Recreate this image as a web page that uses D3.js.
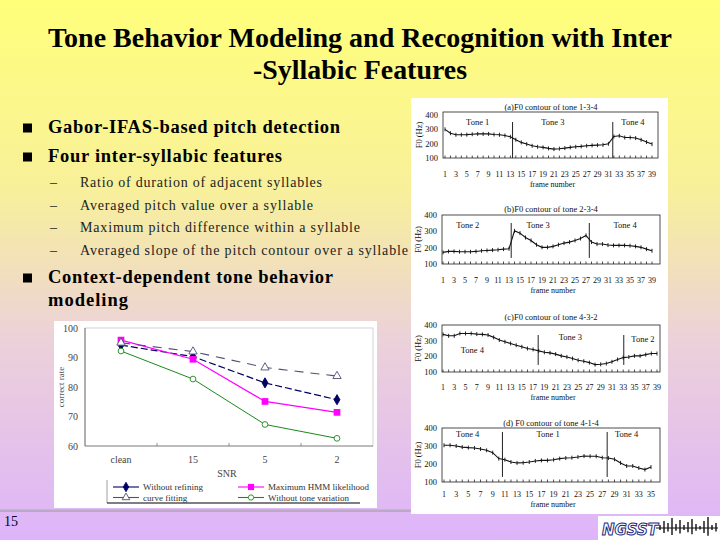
<!DOCTYPE html>
<html><head><meta charset="utf-8">
<script src="https://cdn.jsdelivr.net/npm/d3@7"></script>
<style>body{margin:0;background:#fff;} svg{display:block;}</style>
</head><body>
<svg id="c" width="720" height="540"></svg>
<script>
// ---------------- data ----------------
const titleLines = ["Tone Behavior Modeling and Recognition with Inter", "-Syllabic Features"];
const bulletsTop = ["Gabor-IFAS-based pitch detection", "Four inter-syllabic features"];
const subItems = ["Ratio of duration of adjacent syllables", "Averaged pitch value over a syllable",
  "Maximum pitch difference within a syllable", "Averaged slope of the pitch contour over a syllable"];
const bulletBottom = ["Context-dependent tone behavior", "modeling"];
const slideNumber = "15";

// SNR line chart
const snrCategories = ["clean", "15", "5", "2"];
const yTicks = [60, 70, 80, 90, 100];
const withoutRefining = [94.2, 90.3, 81.4, 75.7];
const maxHMMLikelihood = [95.9, 89.4, 75.1, 71.4];
const curveFitting = [95.0, 92.0, 86.6, 83.7];
const withoutToneVariation = [92.2, 82.7, 67.3, 62.6];
const seriesNames = ["Without refining", "Maximum HMM likelihood", "curve fitting", "Without tone variation"];

// F0 contour panels
const f0Ticks = [100, 200, 300, 400];
const frameTicks39 = [1,3,5,7,9,11,13,15,17,19,21,23,25,27,29,31,33,35,37,39];
const frameTicks35 = [1,3,5,7,9,11,13,15,17,19,21,23,25,27,29,31,33,35];
const f0A = [300,273,262,262,263,266,268,268,268,264,262,257,248,227,209,197,185,178,174,167,162,165,169,174,178,181,185,188,190,192,199,250,255,243,243,239,227,211,197];
const f0B = [171,177,177,175,175,175,177,181,183,185,187,191,193,303,289,262,244,218,202,202,208,218,228,234,244,256,275,234,222,222,216,214,214,214,212,208,202,191,181];
const f0C = [340,331,331,346,346,346,342,340,336,321,304,293,282,271,261,250,244,235,226,222,214,203,196,186,175,169,160,147,149,154,165,180,192,196,203,203,211,218,218];
const f0D = [304,304,300,294,291,289,283,276,263,230,224,211,206,207,211,217,220,220,224,230,233,235,239,244,243,243,235,233,226,206,189,189,178,169,183];
const titlesF0 = ["(a)F0 contour of tone 1-3-4", "(b)F0 contour of tone 2-3-4", "(c)F0 contour of tone 4-3-2", "(d) F0 contour of tone 4-1-4"];
const toneNamesA = ["Tone 1", "Tone 3", "Tone 4"];
const toneNamesB = ["Tone 2", "Tone 3", "Tone 4"];
const toneNamesC = ["Tone 4", "Tone 3", "Tone 2"];
const toneNamesD = ["Tone 4", "Tone 1", "Tone 4"];
const boundariesA = [13.4, 31.8];
const boundariesB = [13.4, 27.6];
const boundariesC = [17.9, 33.1];
const boundariesD = [10.6, 27.8];
const logoWave = [3, 7, 5, 10, 4, 8, 3, 6, 9, 4, 2, 7, 11, 3, 5];

// ---------------- drawing ----------------
const svg = d3.select("#c");
const serif = "'Liberation Serif','Times New Roman',serif";

// background gradient
const defs = svg.append("defs");
const grad = defs.append("linearGradient").attr("id", "bg").attr("x1", 0).attr("y1", 0).attr("x2", 0).attr("y2", 1);
grad.append("stop").attr("offset", "0%").attr("stop-color", "#ffff7a");
grad.append("stop").attr("offset", "35%").attr("stop-color", "#f8f09a");
grad.append("stop").attr("offset", "62%").attr("stop-color", "#ecd2d8");
grad.append("stop").attr("offset", "100%").attr("stop-color", "#deb4fa");
svg.append("rect").attr("width", 720).attr("height", 540).attr("fill", "url(#bg)");

// title
svg.selectAll("text.title").data(titleLines).join("text")
  .attr("class", "title")
  .attr("x", 360).attr("y", (d, i) => 47 + i * 32)
  .attr("text-anchor", "middle")
  .attr("font-family", serif).attr("font-weight", "bold").attr("font-size", 27)
  .attr("textLength", (d, i) => i === 0 ? 624 : 214).attr("lengthAdjust", "spacingAndGlyphs")
  .attr("fill", "#000").text(d => d);

// bullets
const bulletRows = [
  {t: bulletsTop[0], y: 133, w: 292},
  {t: bulletsTop[1], y: 162, w: 234},
  {t: bulletBottom[0], y: 283, w: 285},
  {t: bulletBottom[1], y: 306, w: 80, nob: true}
];
bulletRows.forEach(r => {
  if (!r.nob) svg.append("rect").attr("x", 23).attr("y", r.y - 9.5).attr("width", 9).attr("height", 9).attr("fill", "#000");
  svg.append("text").attr("x", 48).attr("y", r.y)
    .attr("font-family", serif).attr("font-weight", "bold").attr("font-size", 18.5)
    .attr("textLength", r.w).attr("lengthAdjust", "spacing")
    .attr("fill", "#000").text(r.t);
});
const subW = [242, 233, 280, 328];
subItems.forEach((t, i) => {
  const y = 187 + i * 22.5;
  svg.append("text").attr("x", 50).attr("y", y).attr("font-family", serif).attr("font-size", 14).attr("fill", "#222").text("\u2013");
  svg.append("text").attr("x", 80).attr("y", y).attr("font-family", serif).attr("font-size", 14)
    .attr("textLength", subW[i]).attr("lengthAdjust", "spacing").attr("fill", "#222").text(t);
});

// grey separator + slide number
svg.append("rect").attr("x", 0).attr("y", 509.5).attr("width", 412).attr("height", 2.5).attr("fill", "#b9a9c2");
svg.append("text").attr("x", 4).attr("y", 526).attr("font-family", serif).attr("font-size", 14).attr("fill", "#000033").text(slideNumber);

// ---------------- SNR line chart ----------------
const lc = svg.append("g");
lc.append("rect").attr("x", 54).attr("y", 321).attr("width", 323).attr("height", 187).attr("fill", "#fff");
const plot = {l: 85, r: 373, t: 328, b: 446};
const xb = d3.scaleBand().domain(snrCategories).range([plot.l, plot.r]);
const xc = c => xb(c) + xb.bandwidth() / 2;
const y = d3.scaleLinear().domain([60, 100]).range([plot.b, plot.t]);

lc.append("rect").attr("x", plot.l).attr("y", plot.t).attr("width", plot.r - plot.l).attr("height", plot.b - plot.t)
  .attr("fill", "none").attr("stroke", "#c8c8c8").attr("stroke-width", 0.8);
lc.append("line").attr("x1", plot.l).attr("x2", plot.l).attr("y1", plot.t).attr("y2", plot.b).attr("stroke", "#555").attr("stroke-width", 0.8);
lc.append("line").attr("x1", plot.l).attr("x2", plot.r).attr("y1", plot.b).attr("y2", plot.b).attr("stroke", "#777").attr("stroke-width", 0.8);
lc.selectAll("line.bt").data(snrCategories.slice(1)).join("line").attr("class", "bt")
  .attr("x1", d => xb(d)).attr("x2", d => xb(d)).attr("y1", plot.b).attr("y2", plot.b - 3)
  .attr("stroke", "#777").attr("stroke-width", 0.8);
const yAxis = lc.append("g").attr("transform", `translate(${plot.l},0)`)
  .call(d3.axisLeft(y).tickValues(yTicks).tickSize(0).tickPadding(7));
yAxis.select(".domain").remove();
yAxis.selectAll("text").attr("font-family", serif).attr("font-size", 10).attr("fill", "#444");
lc.selectAll("text.xl").data(snrCategories).join("text").attr("class", "xl")
  .attr("x", d => xc(d)).attr("y", 463).attr("text-anchor", "middle")
  .attr("font-family", serif).attr("font-size", 10).attr("fill", "#444").text(d => d);
lc.append("text").attr("x", 227).attr("y", 477).attr("text-anchor", "middle")
  .attr("font-family", serif).attr("font-size", 10).attr("fill", "#444").text("SNR");
lc.append("text").attr("transform", `translate(64,387) rotate(-90)`).attr("text-anchor", "middle")
  .attr("font-family", serif).attr("font-size", 9).attr("fill", "#555").text("correct rate");

const seriesData = [withoutRefining, maxHMMLikelihood, curveFitting, withoutToneVariation];
const styles = [
  {color: "#000066", dash: "7,3", w: 1.2, sym: d3.symbolDiamond, size: 30, fill: "#000066"},
  {color: "#ff00ff", dash: null, w: 1.2, sym: d3.symbolSquare, size: 45, fill: "#ff00ff"},
  {color: "#505070", dash: "9,7", w: 1.1, sym: d3.symbolTriangle, size: 30, fill: "#fff"},
  {color: "#1a8a1a", dash: null, w: 1, sym: d3.symbolCircle, size: 26, fill: "#fff"}
];
const line = d3.line().x((d, i) => xc(snrCategories[i])).y(d => y(d));
seriesData.forEach((s, k) => {
  const st = styles[k];
  lc.append("path").attr("d", line(s)).attr("fill", "none").attr("stroke", st.color)
    .attr("stroke-width", st.w).attr("stroke-dasharray", st.dash);
});
seriesData.forEach((s, k) => {
  const st = styles[k];
  lc.selectAll(null).data(s).join("path")
    .attr("transform", (d, i) => `translate(${xc(snrCategories[i])},${y(d)})`)
    .attr("d", d3.symbol(st.sym, st.size)).attr("fill", st.fill)
    .attr("stroke", k === 1 ? "none" : st.color).attr("stroke-width", 0.9);
});
// legend
const lg = lc.append("g");
lg.append("line").attr("x1", 107).attr("x2", 107).attr("y1", 480).attr("y2", 503).attr("stroke", "#888").attr("stroke-width", 0.8);
lg.append("line").attr("x1", 107).attr("x2", 360).attr("y1", 503).attr("y2", 503).attr("stroke", "#000").attr("stroke-width", 1.2);
const legPos = [{x: 113, y: 487}, {x: 238, y: 487}, {x: 113, y: 497.5}, {x: 238, y: 497.5}];
seriesNames.forEach((n, k) => {
  const st = styles[k], p = legPos[k];
  lg.append("line").attr("x1", p.x).attr("x2", p.x + 26).attr("y1", p.y).attr("y2", p.y)
    .attr("stroke", st.color).attr("stroke-width", 1.1);
  lg.append("path").attr("transform", `translate(${p.x + 13},${p.y})`)
    .attr("d", d3.symbol(st.sym, st.size * 0.85)).attr("fill", st.fill)
    .attr("stroke", k === 1 ? "none" : st.color).attr("stroke-width", 0.9);
  lg.append("text").attr("x", p.x + 30).attr("y", p.y + 3.2).attr("font-family", serif)
    .attr("font-size", 9).attr("fill", "#333").text(n);
});

// ---------------- F0 panels ----------------
svg.append("rect").attr("x", 411).attr("y", 98).attr("width", 257).attr("height", 416).attr("fill", "#fff");
const panels = [
  {data: f0A, ticks: frameTicks39, title: titlesF0[0], names: toneNamesA, bnd: boundariesA,
   left: 443, right: 658, top: 112, bottom: 158, y400: 115, x1: 445, xN: 652,
   titleY: 110, tickY: 177, fnY: 187, bTop: 351, bBot: 100, lab: [[7, 350], [20.8, 350], [35.5, 350]]},
  {data: f0B, ticks: frameTicks39, title: titlesF0[1], names: toneNamesB, bnd: boundariesB,
   left: 442, right: 660, top: 215, bottom: 264, y400: 215, x1: 443, xN: 652,
   titleY: 212, tickY: 283, fnY: 292.5, bTop: 351, bBot: 137, lab: [[5.5, 338], [18.3, 338], [34.1, 338]]},
  {data: f0C, ticks: frameTicks39, title: titlesF0[2], names: toneNamesC, bnd: boundariesC,
   left: 442, right: 660, top: 325, bottom: 372, y400: 325, x1: 443, xN: 657,
   titleY: 320, tickY: 390, fnY: 399.5, bTop: 336, bBot: 145, lab: [[6.2, 238], [23.6, 322], [36.5, 310]]},
  {data: f0D, ticks: frameTicks35, title: titlesF0[3], names: toneNamesD, bnd: boundariesD,
   left: 442, right: 660, top: 428, bottom: 482, y400: 428, x1: 444, xN: 651,
   titleY: 426, tickY: 497, fnY: 507, bTop: 378, bBot: 128, lab: [[4.9, 366], [18.1, 366], [31, 366]]}
];
panels.forEach(p => {
  const g = svg.append("g");
  const n = p.data.length;
  const x = d3.scaleLinear().domain([1, n]).range([p.x1, p.xN]);
  const yy = d3.scaleLinear().domain([100, 400]).range([p.bottom, p.y400]);
  g.append("rect").attr("x", p.left).attr("y", p.top).attr("width", p.right - p.left).attr("height", p.bottom - p.top)
    .attr("fill", "none").attr("stroke", "#222").attr("stroke-width", 0.8);
  g.selectAll(null).data(p.data).join("line")
    .attr("x1", (d, i) => x(i + 1)).attr("x2", (d, i) => x(i + 1))
    .attr("y1", p.bottom).attr("y2", p.bottom - 2.5).attr("stroke", "#222").attr("stroke-width", 0.8);
  g.selectAll(null).data(f0Ticks).join("text")
    .attr("x", p.left - 5).attr("y", d => yy(d) + 3).attr("text-anchor", "end")
    .attr("font-family", serif).attr("font-size", 8.5).attr("fill", "#111").text(d => d);
  g.append("text").attr("transform", `translate(${p.left - 21},${(p.top + p.bottom) / 2}) rotate(-90)`)
    .attr("text-anchor", "middle").attr("font-family", serif).attr("font-size", 8.5).attr("fill", "#111").text("F0 (Hz)");
  g.selectAll(null).data(p.ticks).join("text")
    .attr("x", d => x(d)).attr("y", p.tickY).attr("text-anchor", "middle")
    .attr("font-family", serif).attr("font-size", 8).attr("fill", "#111").text(d => d);
  g.append("text").attr("x", (p.left + p.right) / 2 + 2).attr("y", p.fnY).attr("text-anchor", "middle")
    .attr("font-family", serif).attr("font-size", 8).attr("fill", "#111").text("frame number");
  g.append("text").attr("x", 551).attr("y", p.titleY).attr("text-anchor", "middle")
    .attr("font-family", serif).attr("font-size", 8.5).attr("fill", "#111").text(p.title);
  g.selectAll(null).data(p.bnd).join("line")
    .attr("x1", d => x(d)).attr("x2", d => x(d)).attr("y1", yy(p.bTop)).attr("y2", yy(p.bBot))
    .attr("stroke", "#222").attr("stroke-width", 1);
  g.selectAll(null).data(p.names).join("text")
    .attr("x", (d, i) => x(p.lab[i][0])).attr("y", (d, i) => yy(p.lab[i][1]) + 3).attr("text-anchor", "middle")
    .attr("font-family", serif).attr("font-size", 8.5).attr("fill", "#111").text(d => d);
  const ln = d3.line().x((d, i) => x(i + 1)).y(d => yy(d));
  g.append("path").attr("d", ln(p.data)).attr("fill", "none").attr("stroke", "#111").attr("stroke-width", 1.1);
  g.selectAll(null).data(p.data).join("line")
    .attr("x1", (d, i) => x(i + 1)).attr("x2", (d, i) => x(i + 1))
    .attr("y1", d => yy(d) - 2).attr("y2", d => yy(d) + 2).attr("stroke", "#111").attr("stroke-width", 0.9);
});

// logo
const logo = svg.append("g");
logo.append("rect").attr("x", 598).attr("y", 516).attr("width", 122).attr("height", 24).attr("fill", "#fff");
logo.append("text").attr("x", 602).attr("y", 535).attr("font-family", "'DejaVu Sans',sans-serif")
  .attr("font-style", "italic").attr("font-weight", "bold").attr("font-size", 15)
  .attr("textLength", 56).attr("lengthAdjust", "spacingAndGlyphs")
  .attr("fill", "#fff").attr("stroke", "#1a2a80").attr("stroke-width", 1).text("NGSST");
const wx = d3.scaleLinear().domain([0, logoWave.length - 1]).range([660, 716]);
logo.append("line").attr("x1", 656).attr("x2", 718).attr("y1", 528).attr("y2", 528).attr("stroke", "#111").attr("stroke-width", 1);
logo.selectAll(null).data(logoWave).join("line")
  .attr("x1", (d, i) => wx(i)).attr("x2", (d, i) => wx(i))
  .attr("y1", d => 528 - d).attr("y2", d => 528 + d * 0.7).attr("stroke", "#111").attr("stroke-width", 1.4);
</script>
</body></html>
